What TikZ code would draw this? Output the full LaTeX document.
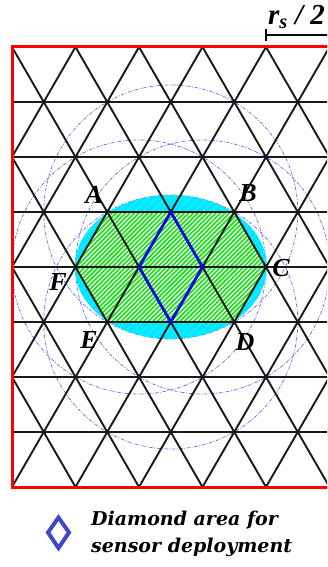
\documentclass[tikz,border=0pt]{standalone}
\usepackage{fontspec}
\setmainfont{Liberation Serif}
\newfontfamily\legendfont{DejaVu Serif}
\usetikzlibrary{patterns.meta}
\definecolor{framered}{RGB}{255,0,0}
\definecolor{hexgreen}{RGB}{30,225,30}
\definecolor{ellcyan}{RGB}{0,232,255}
\definecolor{circblue}{RGB}{105,105,245}
\definecolor{diamblue}{RGB}{10,10,225}
\definecolor{legblue}{RGB}{64,72,200}
\tikzset{
	gridline/.style={line width=1.9pt, black!90}
}
\tikzset{
	rangecircle/.style={circblue, line width=0.7pt, dash pattern=on 3.5pt off 1.5pt on 1pt off 1.5pt}
}
\tikzset{
	vertexlabel/.style={font=\fontsize{26}{30}\selectfont\bfseries\itshape, inner sep=0pt}
}
\tikzset{
	legendtext/.style={font=\legendfont\fontsize{19}{27}\selectfont\bfseries\itshape, align=left, inner sep=0pt}
}
\begin{document}
\begin{tikzpicture}[x=1pt, y=-1pt]
      \clip (0,0) rectangle (327,567);
      % hexagon corners and diamond corners
      \coordinate (A) at (107.25,212);
      \coordinate (B) at (234.25,212);
      \coordinate (C) at (266,267);
      \coordinate (D) at (234.25,322);
      \coordinate (E) at (107.25,322);
      \coordinate (F) at (75.5,267);
      \coordinate (mid) at (170.75,267);
      \coordinate (dT) at (170.75,212);
      \coordinate (dR) at (202.5,267);
      \coordinate (dB) at (170.75,322);
      \coordinate (dL) at (139,267);
      % sensing range circles
      \begin{scope}
        \clip (12,47) rectangle (345,487);
        \foreach \c in {dT,dR,dB,dL}
          \draw[rangecircle] (\c) circle[radius=127];
      \end{scope}
      % covered area
      \fill[ellcyan] (mid) ellipse[x radius=96, y radius=72];
      \fill[pattern={Lines[angle=45, distance=6pt, line width=0.4pt]}, pattern color=ellcyan!70!white] (mid) ellipse[x radius=96, y radius=72];
      \fill[hexgreen] (A) -- (B) -- (C) -- (D) -- (E) -- (F) -- cycle;
      \fill[pattern={Lines[angle=45, distance=3.2pt, line width=1.2pt]}, pattern color=white] (A) -- (B) -- (C) -- (D) -- (E) -- (F) -- cycle;
      % triangular lattice
      \begin{scope}
        \clip (12,47) rectangle (345,487);
        \foreach \j in {0,...,8}
          \draw[gridline] (12,47+55*\j) -- (345,47+55*\j);
        \foreach \k in {-4,...,5}
          \draw[gridline] (12+63.5*\k,47) -- ++(254,440);
        \foreach \k in {0,...,9}
          \draw[gridline] (12+63.5*\k,47) -- ++(-254,440);
      \end{scope}
      \draw[framered, line width=3pt] (12,47) rectangle (345,487);
      % deployment diamond
      \draw[diamblue, line width=2.8pt] (dT) -- (dR) -- (dB) -- (dL) -- cycle;
      % labels
      \node[vertexlabel] (lblA) at (94,195) {A};
      \node[vertexlabel] (lblB) at (248,193) {B};
      \node[vertexlabel] (lblC) at (281,268) {C};
      \node[vertexlabel] (lblF) at (58,282) {F};
      \node[vertexlabel] (lblE) at (89,340) {E};
      \node[vertexlabel] (lblD) at (245,342) {D};
      % scale bar
      \coordinate (barL) at (266,35);
      \coordinate (barR) at (335,35);
      \draw[line width=1.8pt] (barL) -- (barR);
      \draw[line width=1.8pt] (barL) ++(0,-6) -- ++(0,12);
      \node[vertexlabel, font=\fontsize{29}{32}\selectfont\bfseries\itshape, anchor=base west] (lblbar) at (268,25) {r\textsubscript{s} / 2};
      % legend
      \coordinate (legT) at (58.5,517.5);
      \coordinate (legR) at (69,532.5);
      \coordinate (legB) at (58.5,548);
      \coordinate (legL) at (48,532.5);
      \draw[legblue, line width=4pt] (legT) -- (legR) -- (legB) -- (legL) -- cycle;
      \node[legendtext, anchor=north west] (legend) at (91,511) {Diamond area for\\sensor deployment};
    \end{tikzpicture}
\end{document}
